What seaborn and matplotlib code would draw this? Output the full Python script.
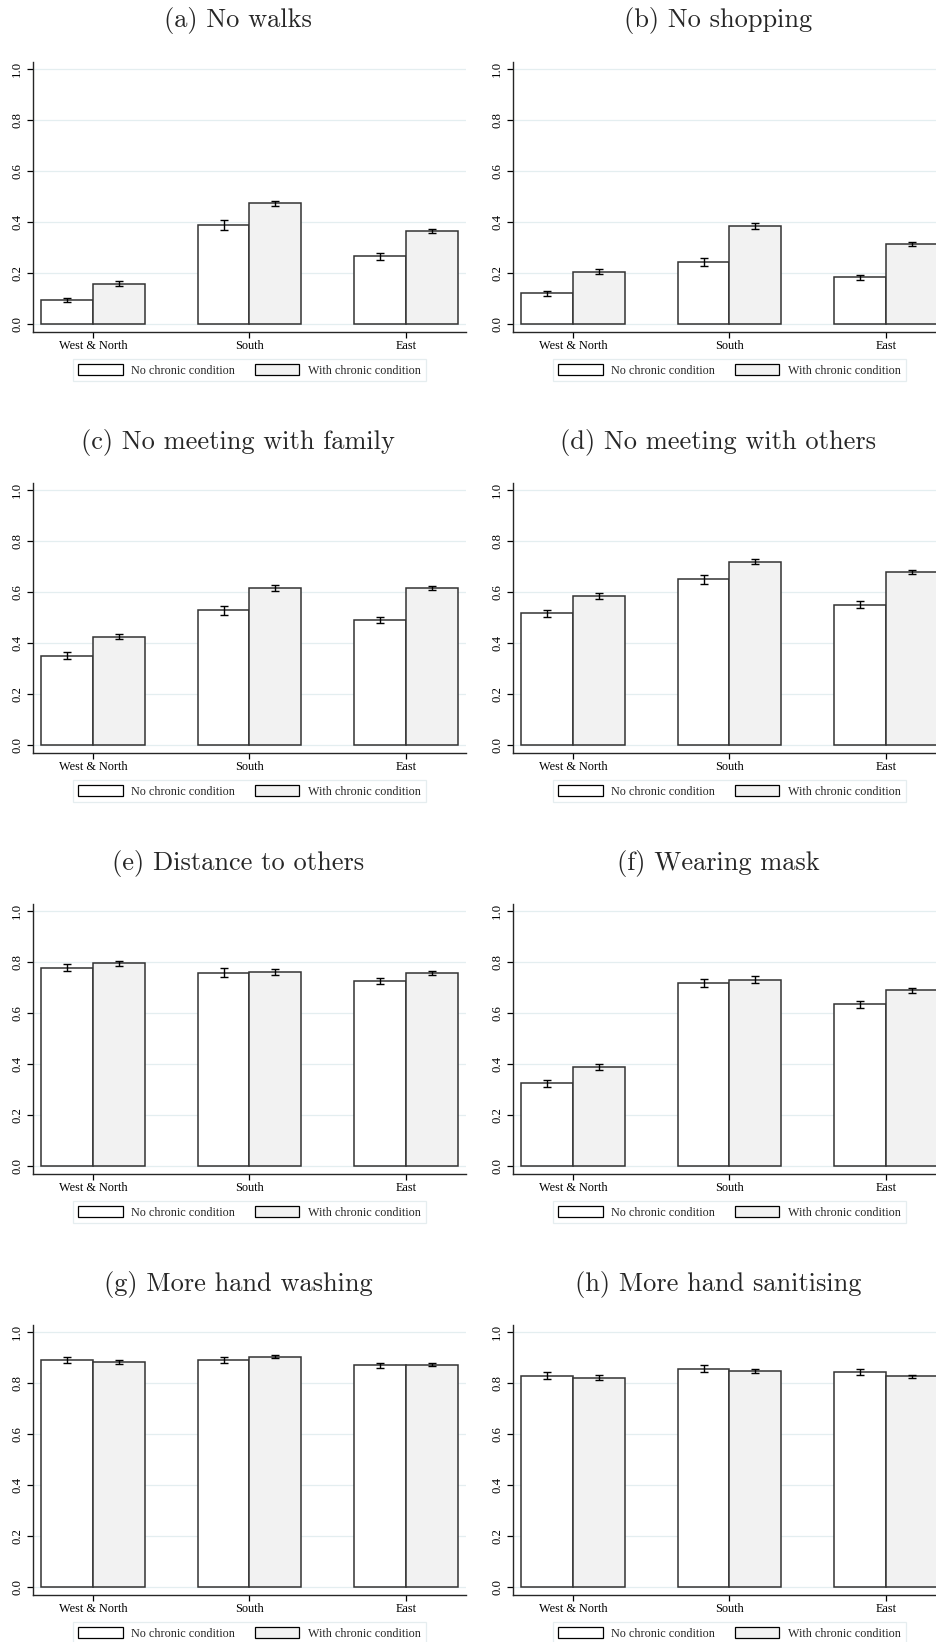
import matplotlib
matplotlib.use("Agg")
import matplotlib.pyplot as plt
import numpy as np
import pandas as pd
import seaborn as sns

regions = ["West & North", "South", "East"]
groups = ["No chronic condition", "With chronic condition"]

titles = [
    "(a) No walks",
    "(b) No shopping",
    "(c) No meeting with family",
    "(d) No meeting with others",
    "(e) Distance to others",
    "(f) Wearing mask",
    "(g) More hand washing",
    "(h) More hand sanitising",
]

# shares per region, rows = [no chronic, with chronic]
walks_mean = [[0.093, 0.388, 0.265], [0.159, 0.473, 0.364]]
walks_ci = [[0.008, 0.018, 0.012], [0.009, 0.011, 0.008]]
shopping_mean = [[0.121, 0.244, 0.183], [0.206, 0.386, 0.315]]
shopping_ci = [[0.010, 0.016, 0.010], [0.010, 0.012, 0.008]]
family_mean = [[0.350, 0.528, 0.489], [0.425, 0.614, 0.614]]
family_ci = [[0.014, 0.017, 0.012], [0.011, 0.012, 0.008]]
others_mean = [[0.517, 0.649, 0.550], [0.585, 0.718, 0.679]]
others_ci = [[0.014, 0.016, 0.014], [0.012, 0.010, 0.007]]
distance_mean = [[0.777, 0.758, 0.725], [0.795, 0.760, 0.756]]
distance_ci = [[0.013, 0.018, 0.012], [0.010, 0.012, 0.008]]
mask_mean = [[0.324, 0.718, 0.634], [0.389, 0.731, 0.689]]
mask_ci = [[0.014, 0.017, 0.014], [0.011, 0.013, 0.009]]
washing_mean = [[0.890, 0.890, 0.869], [0.883, 0.903, 0.872]]
washing_ci = [[0.010, 0.012, 0.010], [0.008, 0.007, 0.006]]
sanitising_mean = [[0.829, 0.856, 0.843], [0.821, 0.847, 0.826]]
sanitising_ci = [[0.012, 0.013, 0.010], [0.009, 0.009, 0.006]]

yticks = [0.0, 0.2, 0.4, 0.6, 0.8, 1.0]
ytick_labels = ["0.0", "0.2", "0.4", "0.6", "0.8", "1.0"]

panels = [
    (walks_mean, walks_ci),
    (shopping_mean, shopping_ci),
    (family_mean, family_ci),
    (others_mean, others_ci),
    (distance_mean, distance_ci),
    (mask_mean, mask_ci),
    (washing_mean, washing_ci),
    (sanitising_mean, sanitising_ci),
]


def to_frame(means):
    rows = []
    for g, vals in zip(groups, means):
        for r, v in zip(regions, vals):
            rows.append({"region": r, "group": g, "share": v})
    return pd.DataFrame(rows)


sns.set_style("ticks")
plt.rcParams["font.family"] = ["Liberation Serif", "DejaVu Serif"]
plt.rcParams["axes.linewidth"] = 1.0

W, H = 937, 1642
fig = plt.figure(figsize=(W / 100, H / 100), dpi=100)

edge = "#333333"
for i, (title, (means, cis)) in enumerate(zip(titles, panels)):
    row, col = divmod(i, 2)
    x0 = 33 + 480 * col
    top = 62 + 421 * row
    ax = fig.add_axes([x0 / W, (H - top - 270) / H, 433 / W, 270 / H])
    df = to_frame(means)
    sns.barplot(
        data=df, x="region", y="share", hue="group", order=regions,
        hue_order=groups, palette=["white", "#f2f2f2"], width=0.664,
        edgecolor=edge, linewidth=1.1, errorbar=None, saturation=1, ax=ax,
    )
    for cont, ci in zip(ax.containers, cis):
        xs = [b.get_x() + b.get_width() / 2 for b in cont]
        ys = [b.get_height() for b in cont]
        ax.errorbar(xs, ys, yerr=ci, fmt="none", ecolor="black",
                    elinewidth=1.0, capsize=3, capthick=1.0, zorder=5)
    ax.set_xlim(-0.383, 2.383)
    ax.set_ylim(-0.031, 1.027)
    ax.set_yticks(yticks)
    ax.set_yticklabels(ytick_labels)
    ax.set_xlabel("")
    ax.set_ylabel("")
    ax.yaxis.grid(True, color="#e4eef0", linewidth=0.9)
    ax.set_axisbelow(True)
    sns.despine(ax=ax)
    ax.tick_params(axis="both", length=4, width=0.9, colors="black")
    ax.tick_params(axis="x", pad=1.5, labelsize=8.8)
    ax.tick_params(axis="y", pad=3, labelrotation=90, labelsize=9.2)
    for lab in ax.get_yticklabels():
        lab.set_va("center")
    sns.move_legend(
        ax, "center", bbox_to_anchor=(0.5, -0.141), ncol=2, title=None,
        frameon=True, fancybox=False, fontsize=8.7, handlelength=3.7,
        handleheight=1.1, handletextpad=0.7, columnspacing=1.6,
        borderpad=0.4, edgecolor="#dfe9ec",
    )
    leg = ax.get_legend()
    leg.get_frame().set_linewidth(0.9)
    for h in leg.legend_handles:
        h.set_edgecolor("black")
        h.set_linewidth(0.9)
    fig.text((238 + 480 * col) / W, 1 - (21 + 421 * row) / H, title,
             ha="center", va="center", fontsize=19, family="cmr10")

fig.savefig("out.png", dpi=100)
